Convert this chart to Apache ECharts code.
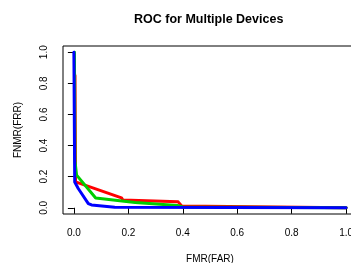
<!DOCTYPE html>
<html>
<head>
<meta charset="utf-8">
<script src="https://cdn.jsdelivr.net/npm/echarts@6/dist/echarts.min.js"></script>
<style>
  html, body { margin: 0; padding: 0; background: #fff; }
  #chart { width: 351px; height: 263px; }
</style>
</head>
<body>
<div id="chart"></div>
<script>
// FMR / FNMR pairs, one curve per device
const redFmr   = [0.004, 0.006, 0.175, 0.180, 0.383, 0.396, 0.400, 1.0]
const redFnmr  = [0.85,  0.166, 0.064, 0.050, 0.038, 0.012, 0.003, 0.0]
const greenFmr  = [0.002, 0.004, 0.010, 0.080, 0.225, 0.380, 0.400, 1.0]
const greenFnmr = [1.0,   0.300, 0.210, 0.063, 0.034, 0.015, 0.005, 0.0]
const blueFmr  = [0.0, 0.003, 0.016, 0.053, 0.065, 0.150, 1.0]
const blueFnmr = [1.0, 0.166, 0.124, 0.027, 0.018, 0.004, 0.0]
const tickValues = [0, 0.2, 0.4, 0.6, 0.8, 1.0]

const FONT = 'Liberation Sans, Arial, Helvetica, sans-serif'

function pairs (xs, ys) {
  return xs.map((x, i) => [x, ys[i]])
}

function curve (name, color, xs, ys) {
  return {
    name,
    type: 'line',
    data: pairs(xs, ys),
    symbol: 'none',
    lineStyle: { color, width: 3, join: 'round', cap: 'round' },
    itemStyle: { color },
    animation: false
  }
}

function tickLabels (extra) {
  return Object.assign({
    customValues: tickValues,
    formatter: v => v.toFixed(1),
    color: '#000',
    fontSize: 10,
    fontFamily: FONT,
    margin: 14
  }, extra)
}

function valueAxis (extra) {
  return Object.assign({
    type: 'value',
    min: -0.04,
    max: 1.04,
    splitLine: { show: false },
    axisLine: { show: false },
    axisTick: {
      show: true,
      customValues: tickValues,
      length: 6,
      lineStyle: { color: '#000', width: 1 }
    },
    axisLabel: tickLabels(),
    nameTextStyle: { color: '#000', fontSize: 10, fontFamily: FONT }
  }, extra)
}

const chart = echarts.init(document.getElementById('chart'), null, { renderer: 'canvas' })
chart.setOption({
  backgroundColor: '#fff',
  animation: false,
  title: {
    text: 'ROC for Multiple Devices',
    left: 134,
    top: 13,
    padding: 0,
    textStyle: { fontSize: 12.5, fontWeight: 'bold', color: '#000', fontFamily: FONT }
  },
  grid: {
    left: 63,
    top: 46,
    width: 294,
    height: 168,
    containLabel: false,
    outerBoundsMode: 'none',
    show: true,
    borderColor: '#000',
    borderWidth: 1,
    backgroundColor: 'transparent'
  },
  xAxis: valueAxis({
    name: 'FMR(FAR)',
    nameLocation: 'middle',
    nameGap: 40,
    axisLabel: tickLabels({ margin: 14 })
  }),
  yAxis: valueAxis({
    name: 'FNMR(FRR)',
    nameLocation: 'middle',
    nameGap: 40,
    axisLabel: tickLabels({ rotate: 90, margin: 14 })
  }),
  series: [
    curve('Device 1', '#FF0000', redFmr, redFnmr),
    curve('Device 2', '#00CD00', greenFmr, greenFnmr),
    curve('Device 3', '#0000FF', blueFmr, blueFnmr)
  ]
})
</script>
</body>
</html>
